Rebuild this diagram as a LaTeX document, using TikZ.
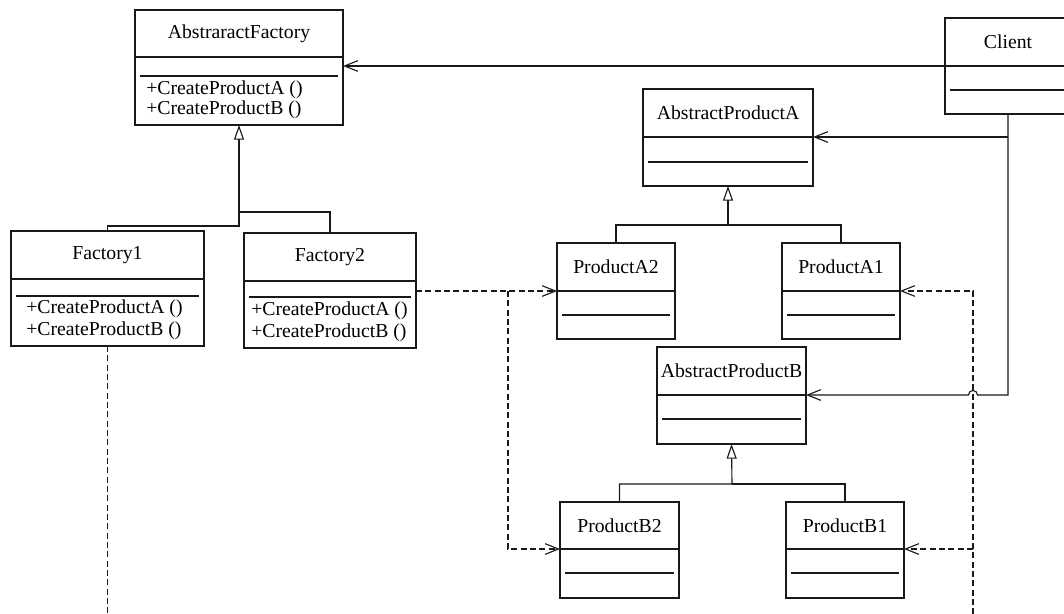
\documentclass[tikz,border=0pt]{standalone}
\usepackage{fontspec}
\setmainfont{Liberation Serif}
\usetikzlibrary{arrows.meta}
\newcommand\cfont{\fontsize{14.8pt}{16pt}\selectfont}
\newcommand\umlcls[8]{%
  \node[box, minimum width={(#4-#2)*0.75pt}, minimum height={(#5-#3)*0.75pt}] (#1) at ({(#2+#4)/2},{(#3+#5)/2}) {};
  \coordinate (#1-div) at (#2,#6);
  \draw[sep] (#2,#6) -- (#4,#6);
  \draw[sep] ({#2+5},#7) -- ({#4-5},#7);
  \node[title] (#1-t) at ({(#2+#4)/2},{(#3+#6)/2}) {#8};
}
\begin{document}
\begin{tikzpicture}[x=0.75pt,y=-0.75pt,
  box/.style={draw=black!90, line width=0.9pt, inner sep=0pt, outer sep=0pt},
  sep/.style={draw=black!90, line width=0.9pt},
  title/.style={font=\cfont, inner sep=0pt},
  op/.style={font=\cfont, inner sep=0pt, anchor=west},
  assoc/.style={draw=black!90, line width=0.85pt, -{Straight Barb[length=10pt,width=8pt]}},
  gen/.style={draw=black!90, line width=0.85pt, -{Triangle[open, length=11pt, width=7.5pt, fill=white]}},
  dep/.style={assoc, dash pattern=on 4.5pt off 2.5pt},
  line/.style={draw=black!90, line width=0.85pt}]
\useasboundingbox (0,0) rectangle (1064,614);
\clip (0,0) rectangle (1064,614);

% classes
\umlcls{af}{135}{10}{343}{125}{57}{76}{AbstraractFactory}
\node[op] (af-o1) at (146,90) {+CreateProductA ()};
\node[op] (af-o2) at (146,110) {+CreateProductB ()};

\umlcls{cl}{945}{18}{1071}{114}{66}{90}{Client}

\umlcls{f1}{11}{231}{204}{346}{279}{296}{Factory1}
\node[op] (f1-o1) at (26,309) {+CreateProductA ()};
\node[op] (f1-o2) at (26,331) {+CreateProductB ()};

\umlcls{f2}{244}{233}{416}{348}{281}{297}{Factory2}
\node[op] (f2-o1) at (251,311) {+CreateProductA ()};
\node[op] (f2-o2) at (251,333) {+CreateProductB ()};

\umlcls{apa}{643}{89}{813}{186}{137}{162}{AbstractProductA}
\umlcls{pa2}{557}{243}{675}{339}{291}{315}{ProductA2}
\umlcls{pa1}{782}{243}{900}{339}{291}{315}{ProductA1}
\umlcls{apb}{657}{347}{806}{444}{395}{419}{AbstractProductB}
\umlcls{pb2}{560}{502}{679}{598}{549}{573}{ProductB2}
\umlcls{pb1}{786}{502}{904}{598}{549}{573}{ProductB1}

% helper coordinates
\coordinate (afj) at (239,226);
\coordinate (apaj) at (728,225);
\coordinate (apbj) at (732,484);
\coordinate (f2j) at (508,291);
\coordinate (fbot) at (973,640);

% association: client -> abstract factory
\draw[assoc] (cl.west |- cl-div) -- (af.east |- cl-div);
% client -> abstract products
\draw[assoc] (cl.south) -- (cl.south |- apb-div) -- (977.5,395)
  arc[start angle=0, end angle=180, radius=3.4pt] -- (apb.east |- apb-div);
\draw[assoc] (cl.south |- apa-div) -- (apa.east |- apa-div);

% generalizations
\draw[gen] (f1.north) -- (f1.north |- afj) -- (afj) -- (af.south);
\draw[line] (f2.north) -- (330,212) -| (afj);
\draw[gen] (pa2.north) -- (pa2.north |- apaj) -- (apaj) -- (apa.south);
\draw[line] (pa1.north) |- (apaj);
\draw[gen] (pb2.north) -- (pb2.north |- apbj) -- (apbj) -- (apb.south);
\draw[line] (pb1.north) |- (apbj);

% dependencies
\draw[dep] (f2.east |- pa2-div) -- (pa2.west |- pa2-div);
\draw[dep] (f2j) |- (pb2.west |- pb2-div);
\draw[dep] (f1.south) -- (f1.south |- fbot) -- (fbot) -- (fbot |- pa1-div) -- (pa1.east |- pa1-div);
\draw[dep] (fbot |- pb1-div) -- (pb1.east |- pb1-div);
\end{tikzpicture}
\end{document}
